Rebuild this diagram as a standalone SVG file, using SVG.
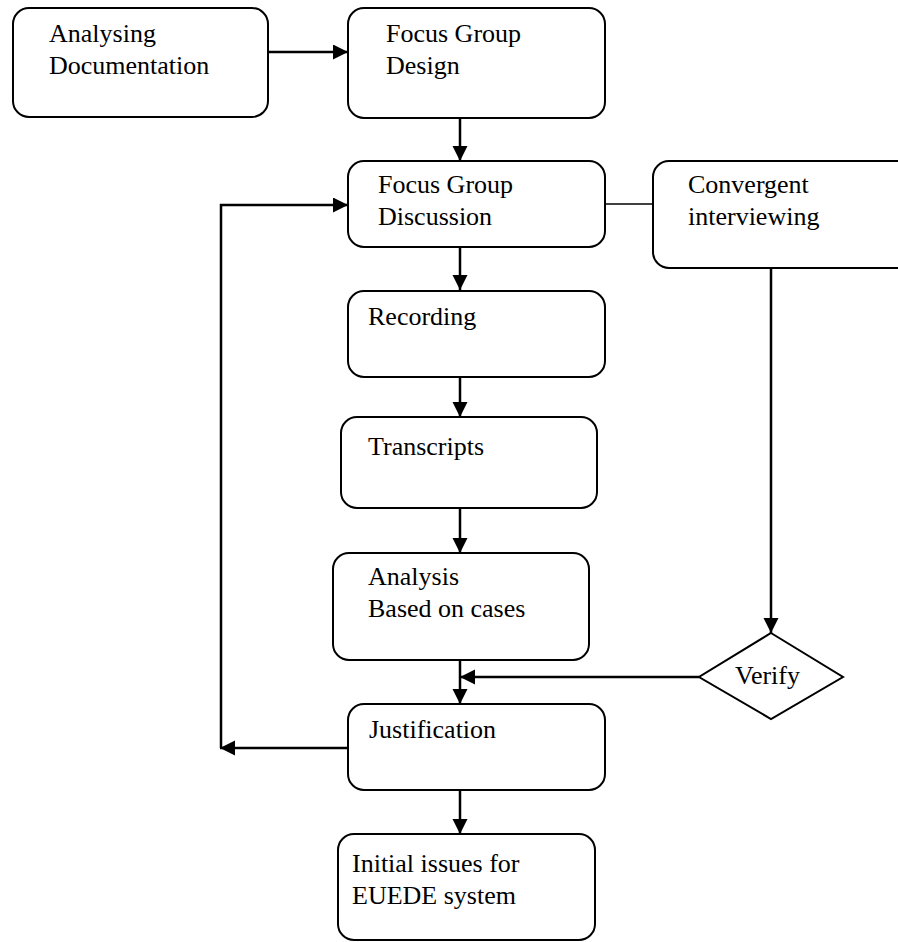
<svg xmlns="http://www.w3.org/2000/svg" width="898" height="942" viewBox="0 0 898 942">
<style>
.box{fill:#fff;stroke:#000;stroke-width:2}
.t{font-family:'Liberation Serif','Times New Roman',Times,serif;font-size:26px;fill:#000}
.c{fill:none;stroke:#000;stroke-width:2.5}
.thin{fill:none;stroke:#000;stroke-width:1.5}
</style>
<defs>
<marker id="ah" markerUnits="userSpaceOnUse" markerWidth="16" markerHeight="16" refX="15" refY="7.5" orient="auto">
<path d="M0,0 L15,7.5 L0,15 z" fill="#000"/>
</marker>
</defs>
<rect width="898" height="942" fill="#fff"/>
<g id="connectors">
<line class="c" x1="268" y1="52" x2="348" y2="52" marker-end="url(#ah)"/>
<line class="c" x1="460" y1="118" x2="460" y2="161" marker-end="url(#ah)"/>
<line class="thin" x1="605" y1="204" x2="653" y2="204"/>
<line class="c" x1="460" y1="247" x2="460" y2="290" marker-end="url(#ah)"/>
<line class="c" x1="460" y1="377" x2="460" y2="417" marker-end="url(#ah)"/>
<line class="c" x1="460" y1="508" x2="460" y2="553" marker-end="url(#ah)"/>
<line class="c" x1="771" y1="268" x2="771" y2="633" marker-end="url(#ah)"/>
<line class="c" x1="699" y1="677" x2="460" y2="677" marker-end="url(#ah)"/>
<line class="c" x1="460" y1="660" x2="460" y2="704" marker-end="url(#ah)"/>
<line class="c" x1="460" y1="790" x2="460" y2="834" marker-end="url(#ah)"/>
<line class="c" x1="348" y1="748" x2="220" y2="748" marker-end="url(#ah)"/>
<polyline class="c" points="221,748 221,205 348,205" marker-end="url(#ah)"/>
</g>
<g id="analysing">
<rect class="box" x="13" y="8" width="255" height="109" rx="16"/>
<text class="t" x="49" y="42">Analysing</text>
<text class="t" x="49" y="74">Documentation</text>
</g>
<g id="fgdesign">
<rect class="box" x="348" y="8" width="257" height="110" rx="16"/>
<text class="t" x="386" y="42">Focus Group</text>
<text class="t" x="386" y="74">Design</text>
</g>
<g id="fgdiscussion">
<rect class="box" x="348" y="161" width="257" height="86" rx="16"/>
<text class="t" x="378" y="193">Focus Group</text>
<text class="t" x="378" y="225">Discussion</text>
</g>
<g id="convergent">
<rect class="box" x="653" y="161" width="260" height="107" rx="16"/>
<text class="t" x="688" y="193">Convergent</text>
<text class="t" x="688" y="225">interviewing</text>
</g>
<g id="recording">
<rect class="box" x="348" y="291" width="257" height="86" rx="16"/>
<text class="t" x="368" y="325">Recording</text>
</g>
<g id="transcripts">
<rect class="box" x="341" y="417" width="256" height="91" rx="16"/>
<text class="t" x="368" y="455">Transcripts</text>
</g>
<g id="analysis">
<rect class="box" x="333" y="553" width="256" height="107" rx="16"/>
<text class="t" x="368" y="585">Analysis</text>
<text class="t" x="368" y="617">Based on cases</text>
</g>
<g id="verify">
<polygon class="box" points="771,633 843,677 771,719 699,677"/>
<text class="t" x="735" y="684">Verify</text>
</g>
<g id="justification">
<rect class="box" x="348" y="704" width="257" height="86" rx="16"/>
<text class="t" x="369" y="738">Justification</text>
</g>
<g id="initial">
<rect class="box" x="338" y="834" width="257" height="106" rx="16"/>
<text class="t" x="352" y="872">Initial issues for</text>
<text class="t" x="352" y="904">EUEDE system</text>
</g>
</svg>
